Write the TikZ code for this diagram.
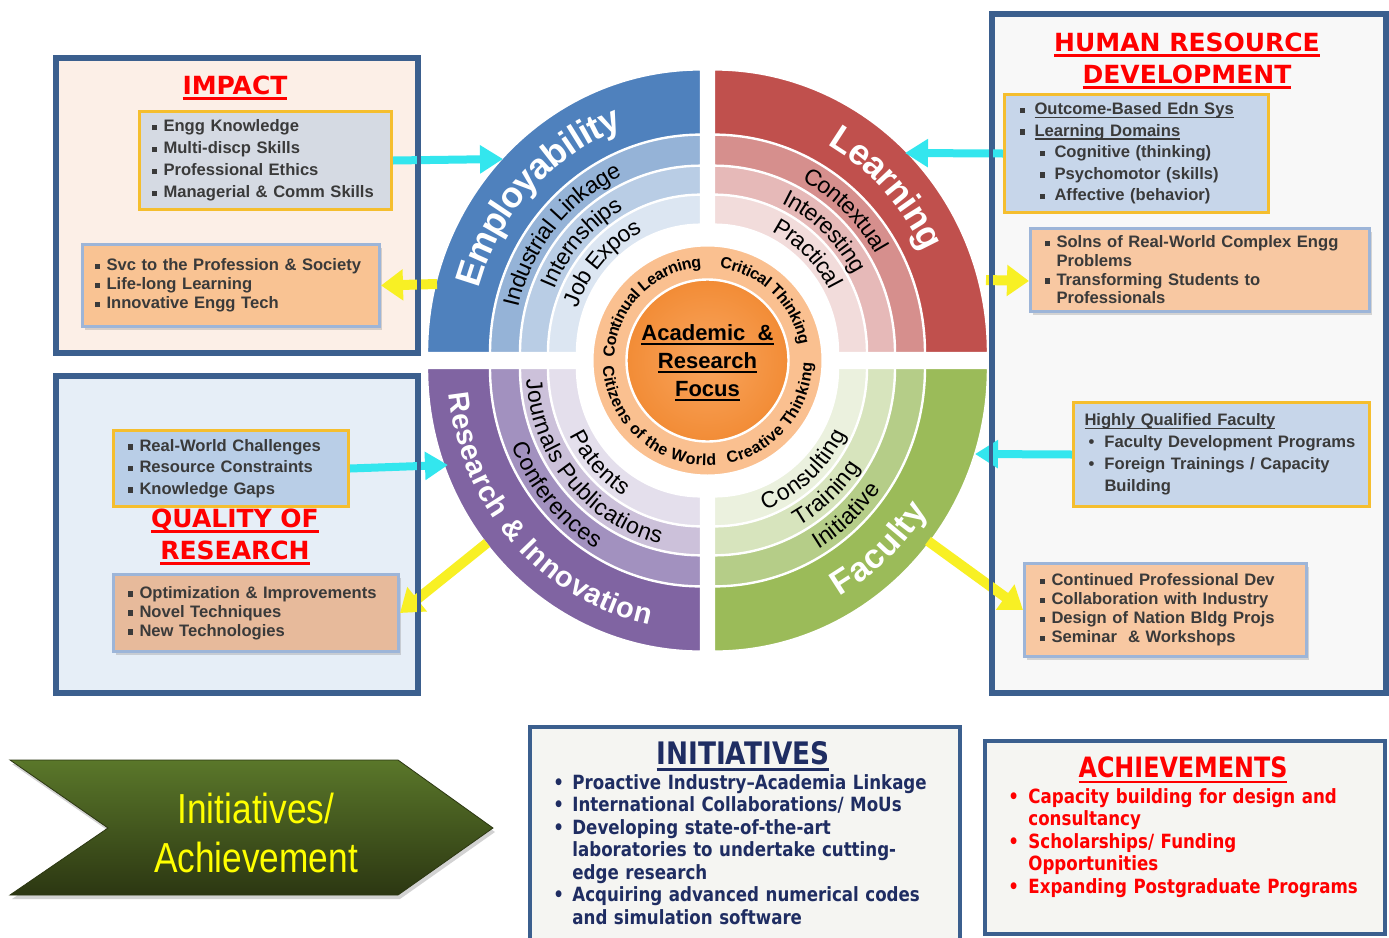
\documentclass[tikz,border=0pt]{standalone}
\usepackage{fontspec}
\setmainfont{Liberation Sans}
\newfontfamily\titlefont{DejaVu Sans}
\newfontfamily\condfont[FakeStretch=0.85]{DejaVu Sans}
\newfontfamily\narrowfont[FakeStretch=0.84]{Liberation Sans}
\usepackage{tikz}
\usetikzlibrary{arrows.meta,decorations.text,shadows}

\definecolor{frame}{HTML}{3B5F8E}
\definecolor{impbg}{HTML}{FCEFE7}
\definecolor{qorbg}{HTML}{E6EEF7}
\definecolor{hrdbg}{HTML}{F8F8F8}
\definecolor{lowbg}{HTML}{F5F5F2}
\definecolor{goldline}{HTML}{F5BE2E}
\definecolor{greyline}{HTML}{9DB5D8}
\definecolor{impgrey}{HTML}{D5DAE3}
\definecolor{peach}{HTML}{F9C393}
\definecolor{tanbox}{HTML}{E7BA9B}
\definecolor{skyfill}{HTML}{B9CEE7}
\definecolor{hrdblue}{HTML}{C7D6EA}
\definecolor{hrdpeach}{HTML}{F8C8A2}
\definecolor{boxtext}{HTML}{3A3A3A}
\definecolor{navytext}{HTML}{1F2D62}
\definecolor{arrcyan}{HTML}{33E6EE}
\definecolor{arryel}{HTML}{F8F024}
\definecolor{empA}{HTML}{4F81BD}
\definecolor{empB}{HTML}{95B3D7}
\definecolor{empC}{HTML}{B9CDE5}
\definecolor{empD}{HTML}{DCE6F2}
\definecolor{lrnA}{HTML}{C0504D}
\definecolor{lrnB}{HTML}{D68F8D}
\definecolor{lrnC}{HTML}{E6B9B8}
\definecolor{lrnD}{HTML}{F2DCDB}
\definecolor{resA}{HTML}{8064A2}
\definecolor{resB}{HTML}{A291BF}
\definecolor{resC}{HTML}{CCC1DA}
\definecolor{resD}{HTML}{E4DFEC}
\definecolor{facA}{HTML}{9BBB59}
\definecolor{facB}{HTML}{B5CD88}
\definecolor{facC}{HTML}{D7E4BD}
\definecolor{facD}{HTML}{EBF1DE}
\definecolor{ringC}{HTML}{FAC090}
\definecolor{coreA}{HTML}{F9A55E}
\definecolor{coreB}{HTML}{F28C36}
\definecolor{chevtop}{HTML}{5A772A}
\definecolor{chevbot}{HTML}{2C3712}
\definecolor{chevtext}{HTML}{FFFF00}

% bullets and underlines
\newcommand{\sqb}{\raisebox{0.8pt}{\rule{2.6pt}{2.6pt}}\hspace{3.4pt}}
\newcommand{\bul}[1][9.5pt]{\makebox[#1][l]{\textbullet}}
\newcommand{\ulined}[2][0.7pt]{\setbox0\hbox{#2}\rlap{\copy0}\rule[-0.2em]{\wd0}{#1}}
% band fonts
\newcommand{\bigband}{\fontsize{18}{18}\selectfont\bfseries\def\bandcol{white}}
\newcommand{\resband}{\fontsize{14.5}{15}\selectfont\bfseries\def\bandcol{white}}
\newcommand{\facband}{\fontsize{17}{17}\selectfont\bfseries\def\bandcol{white}}
\newcommand{\smallband}{\fontsize{11.5}{12}\selectfont\def\bandcol{black}}
\newcommand{\ringfont}{\fontsize{8}{9}\selectfont\bfseries\def\bandcol{black}}
% text on an elliptic arc: centre, x radius, y radius, mid angle, sense (1 = clockwise), raise, font, text
\newcommand{\arctext}[8]{%
  \begingroup#7%
  \pgfmathsetmacro\arcA{#4+#5*70}\pgfmathsetmacro\arcB{#4-#5*70}%
  \path[decorate, decoration={text along path, text align=center, raise=#6, text color=\bandcol, text={#8}}]
    ([shift={(\arcA:#2 and #3)}]#1) arc[start angle=\arcA, end angle=\arcB, x radius=#2, y radius=#3];%
  \endgroup}

\tikzset{
  panel/.style ={draw=frame, line width=2pt, inner sep=0pt, anchor=north west},
  ibox/.style  ={line width=1.5pt, align=left, anchor=north west, inner ysep=0pt,
                 font=\fontsize{8.3}{#1}\selectfont\bfseries, text=boxtext},
  gbox/.style  ={ibox=#1, draw=goldline},
  pbox/.style  ={ibox=#1, draw=greyline, drop shadow={opacity=0.3,shadow xshift=1pt,shadow yshift=-1.5pt}},
  title/.style ={font=\titlefont\bfseries\fontsize{12.5}{16}\selectfont, text=red, align=center},
  cyanar/.style={-{Triangle[width=13.5pt,length=11.5pt]}, draw=arrcyan, line width=4pt},
  yelar/.style ={-{Triangle[width=15pt,length=11pt]}, draw=arryel, line width=5pt},
}

\begin{document}
\begin{tikzpicture}[x=0.5pt,y=0.5pt]
\useasboundingbox (0,0) rectangle (1389,-938);
\fill[white] (0,0) rectangle (1389,-938);

% outer panels
\node[panel, fill=impbg, minimum width=180pt, minimum height=146.5pt] (impact) at (55,-57) {};
\node[panel, fill=qorbg, minimum width=180pt, minimum height=157.5pt] (qor) at (55,-375) {};
\node[panel, fill=hrdbg, minimum width=196pt, minimum height=338.5pt] (hrd) at (991,-13) {};
\node[panel, fill=lowbg, minimum width=215pt, minimum height=115pt] (init) at (528,-725) {};
\node[panel, fill=lowbg, minimum width=200pt, minimum height=96.5pt] (ach) at (983,-739) {};

% titles
\node[title] (impT) at (235,-88) {\ulined[1.4pt]{IMPACT}};
\node[title] (qorT) at (235,-537) {\ulined[1.4pt]{QUALITY OF}\\\ulined[1.4pt]{RESEARCH}};
\node[title] (hrdT) at (1187,-61) {\ulined[1.4pt]{HUMAN RESOURCE}\\\ulined[1.4pt]{DEVELOPMENT}};

% impact boxes
\node[gbox=11, fill=impgrey, inner xsep=6pt, text width=114pt, minimum height=49pt] (imp1) at (138,-110)
  {\sqb Engg Knowledge\\\sqb Multi-discp Skills\\\sqb Professional Ethics\\\sqb Managerial \& Comm Skills};
\node[pbox=9.5, fill=peach, inner xsep=6pt, text width=136.5pt, minimum height=41pt] (imp2) at (81,-243)
  {\sqb Svc to the Profession \& Society\\\sqb Life-long Learning\\\sqb Innovative Engg Tech};

% research boxes
\node[gbox=10.75, fill=skyfill, inner xsep=7pt, text width=103.5pt, minimum height=38pt] (qor1) at (112,-429)
  {\sqb Real-World Challenges\\\sqb Resource Constraints\\\sqb Knowledge Gaps};
\node[pbox=9.5, fill=tanbox, inner xsep=7pt, text width=128.5pt, minimum height=38.5pt] (qor2) at (112,-573)
  {\sqb Optimization \& Improvements\\\sqb Novel Techniques\\\sqb New Technologies};

% hr development boxes
\node[gbox=10.75, fill=hrdblue, inner xsep=7.5pt, text width=117pt, minimum height=59pt] (hrd1) at (1003,-93)
  {\sqb\hspace{1.5pt}\ulined{Outcome-Based Edn Sys}\\
   \sqb\hspace{1.5pt}\ulined{Learning Domains}\\
   \hspace*{10pt}\sqb\hspace{1.5pt}Cognitive (thinking)\\
   \hspace*{10pt}\sqb\hspace{1.5pt}Psychomotor (skills)\\
   \hspace*{10pt}\sqb\hspace{1.5pt}Affective (behavior)};
\node[pbox=9.35, fill=hrdpeach, inner xsep=7pt, text width=155.5pt, minimum height=41.5pt] (hrd2) at (1029,-227)
  {\sqb Solns of Real-World Complex Engg\\\hspace*{6pt}Problems\\
   \sqb Transforming Students to\\\hspace*{6pt}Professionals};
\node[gbox=11, fill=hrdblue, inner xsep=4.5pt, text width=139pt, minimum height=52pt] (hrd3) at (1072,-401)
  {\hspace*{1pt}\ulined{Highly Qualified Faculty}\\
   \hspace*{3pt}\bul[8pt]Faculty Development Programs\\
   \hspace*{3pt}\bul[8pt]Foreign Trainings / Capacity\\
   \hspace*{11pt}Building};
\node[pbox=9.5, fill=hrdpeach, inner xsep=7.5pt, text width=126pt, minimum height=46.5pt] (hrd4) at (1023,-562)
  {\sqb Continued Professional Dev\\\sqb Collaboration with Industry\\
   \sqb Design of Nation Bldg Projs\\\sqb Seminar \ \& Workshops};

% the wheel: four quadrants of rings
\coordinate (cTL) at (701,-353);
\coordinate (cTR) at (714,-353);
\coordinate (cBL) at (701,-368);
\coordinate (cBR) at (714,-368);
\coordinate (cMid) at (707.5,-360.5);
\foreach \q/\a/\ca/\cb/\cc/\cd in {cTL/90/empA/empB/empC/empD, cTR/0/lrnA/lrnB/lrnC/lrnD,
                                   cBL/180/resA/resB/resC/resD, cBR/270/facA/facB/facC/facD}{
  \foreach \rad/\col in {274/\ca, 211/\cb, 181/\cc, 153/\cd, 124/white}{
    \pgfmathsetmacro\ry{\rad*1.035}
    \filldraw[fill=\col, draw=white, line width=1.2pt]
      (\q) -- ++(\a:{\rad} and {\ry}) arc[start angle=\a, delta angle=90, x radius=\rad, y radius=\ry] -- cycle;
  }
}
\filldraw[fill=ringC, draw=white, line width=1pt] (cMid) circle (115);
\shadedraw[inner color=coreA, outer color=coreB, draw=white, line width=1.2pt] (cMid) circle (81);
\node[font=\bfseries\fontsize{11}{14}\selectfont, align=center] (focus) at (707.5,-363)
  {\ulined[1pt]{Academic \ \&}\\\ulined[1pt]{Research}\\\ulined[1pt]{Focus}};

% ring labels
\arctext{cTL}{242.5}{251}{136.5}{1}{-6pt}{\bigband}{Employability}
\arctext{cTL}{196}{202.9}{140}{1}{-4pt}{\smallband}{Industrial Linkage}
\arctext{cTL}{167}{172.8}{137.5}{1}{-4pt}{\smallband}{Internships}
\arctext{cTL}{138.5}{143.3}{138}{1}{-4pt}{\smallband}{Job Expos}
\arctext{cTR}{242.5}{251}{43.5}{1}{-6pt}{\bigband}{Learning}
\arctext{cTR}{196}{202.9}{47}{1}{-4pt}{\smallband}{Contextual}
\arctext{cTR}{167}{172.8}{47.5}{1}{-4pt}{\smallband}{Interesting}
\arctext{cTR}{138.5}{143.3}{46.5}{1}{-4pt}{\smallband}{Practical}
\arctext{cBL}{242.5}{251}{222.5}{-1}{-5.5pt}{\resband}{Research {\&} Innovation}
\arctext{cBL}{196}{202.9}{221}{-1}{-4pt}{\smallband}{Conferences}
\arctext{cBL}{167}{172.8}{220.5}{-1}{-4pt}{\smallband}{Journals Publications}
\arctext{cBL}{138.5}{143.3}{223}{-1}{-4pt}{\smallband}{Patents}
\arctext{cBR}{242.5}{251}{312.5}{-1}{-6pt}{\facband}{Faculty}
\arctext{cBR}{196}{202.9}{312}{-1}{-4pt}{\smallband}{Initiative}
\arctext{cBR}{167}{172.8}{312}{-1}{-4pt}{\smallband}{Training}
\arctext{cBR}{138.5}{143.3}{311.5}{-1}{-4pt}{\smallband}{Consulting}
\arctext{cMid}{99}{99}{136}{1}{-2.9pt}{\ringfont}{Continual Learning}
\arctext{cMid}{99}{99}{46}{1}{-2.9pt}{\ringfont}{Critical Thinking}
\arctext{cMid}{99}{99}{229}{-1}{-2.9pt}{\ringfont}{Citizens of the World}
\arctext{cMid}{99}{99}{320}{-1}{-2.9pt}{\ringfont}{Creative Thinking}

% arrow ends on the wheel rim
\coordinate (empIn) at (503,-159);
\coordinate (empOut) at (437,-284);
\coordinate (lrnIn) at (905,-153);
\coordinate (lrnOut) at (986,-280);
\coordinate (facIn) at (975,-454);
\coordinate (facOut) at (928,-541);
\coordinate (resIn) at (448,-465);
\coordinate (resOut) at (487,-543);

\draw[cyanar] (imp1.east) -- (empIn);
\draw[yelar] (empOut) -- (imp2.east);
\draw[cyanar] (hrd1.west) -- (lrnIn);
\draw[yelar] (lrnOut) -- ([yshift=-5.5pt]hrd2.west);
\draw[cyanar] (hrd3.west) -- (facIn);
\draw[yelar] (facOut) -- (hrd4.west);
\draw[cyanar] (qor1.east) -- (resIn);
\draw[yelar] (resOut) -- (qor2.east);
\foreach \p in {impact,qor,hrd}
  \draw[draw=frame, line width=2pt] (\p.north west) rectangle (\p.south east);

% initiatives / achievements
\shade[top color=chevtop, bottom color=chevbot, draw=chevbot,
       drop shadow={opacity=0.35,shadow xshift=1pt,shadow yshift=-2pt}]
  (10,-760) -- (398,-760) -- (493,-828) -- (398,-895) -- (10,-895) -- (108,-828) -- cycle;
\node[font=\narrowfont\fontsize{21}{24.5}\selectfont, text=chevtext, align=center] (chevT) at (256,-833)
  {Initiatives/\\Achievement};

\node[font=\condfont\bfseries\fontsize{15.5}{16}\selectfont, text=navytext] (initT) at (743,-756)
  {\ulined[1.3pt]{INITIATIVES}};
\node[font=\condfont\bfseries\fontsize{9.8}{11.25}\selectfont, text=navytext, align=left,
      text width=215pt, inner sep=0pt, anchor=north west] (initL) at (553,-774)
  {\bul Proactive Industry–Academia Linkage\\
   \bul International Collaborations/ MoUs\\
   \bul Developing state-of-the-art\\
   \hspace*{9.5pt}laboratories to undertake cutting-\\
   \hspace*{9.5pt}edge research\\
   \bul Acquiring advanced numerical codes\\
   \hspace*{9.5pt}and simulation software};

\node[font=\condfont\bfseries\fontsize{14}{16}\selectfont, text=red] (achT) at (1183,-770)
  {\ulined[1.3pt]{ACHIEVEMENTS}};
\node[font=\condfont\bfseries\fontsize{9.8}{11.25}\selectfont, text=red, align=left,
      text width=190pt, inner sep=0pt, anchor=north west] (achL) at (1008,-788)
  {\bul[10pt]Capacity building for design and\\
   \hspace*{10pt}consultancy\\
   \bul[10pt]Scholarships/ Funding\\
   \hspace*{10pt}Opportunities\\
   \bul[10pt]Expanding Postgraduate Programs};
\end{tikzpicture}
\end{document}
